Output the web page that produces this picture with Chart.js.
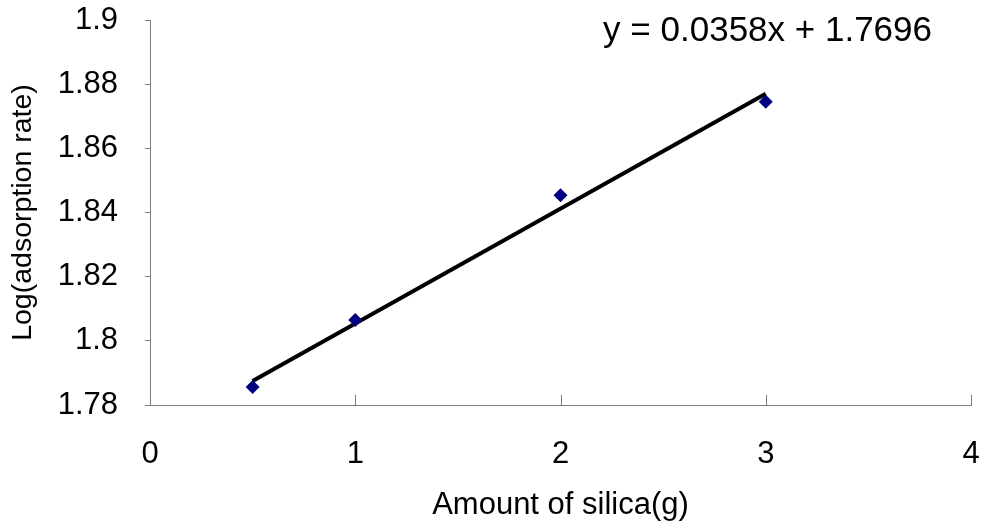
<!DOCTYPE html>
<html>
<head>
<meta charset="utf-8">
<script src="https://cdn.jsdelivr.net/npm/chart.js@4.4.0/dist/chart.umd.min.js"></script>
<style>
  html, body { margin: 0; padding: 0; background: #fff; }
  #wrap { width: 986px; height: 524px; position: relative; }
</style>
</head>
<body>
<div id="wrap"><canvas id="chart"></canvas></div>
<script>
// ---- data ----
const silicaAmount = [0.5, 1, 2, 3];
const logAdsorption = [1.7856, 1.8065, 1.8454, 1.8745];

// trendline end points (from y = 0.0358x + 1.7696)
const trendX = [0.5, 3];
const trendY = [1.7875, 1.877];

const yTickLabels = ['1.78', '1.8', '1.82', '1.84', '1.86', '1.88', '1.9'];
const xTickLabels = ['0', '1', '2', '3', '4'];
const equationText = 'y = 0.0358x + 1.7696';

const FONT = '"Liberation Sans", Arial, sans-serif';
const AXIS_GREY = '#7f7f7f';

// x axis ticks point inwards in the original, draw them by hand
const innerTicks = {
    id: 'innerTicks',
    afterDraw(chart) {
        const ctx = chart.ctx;
        const xs = chart.scales.x;
        const bottom = chart.chartArea.bottom;
        ctx.save();
        ctx.strokeStyle = AXIS_GREY;
        ctx.lineWidth = 1;
        xs.ticks.forEach(t => {
            const px = Math.round(xs.getPixelForValue(t.value)) + 0.5;
            ctx.beginPath();
            ctx.moveTo(px, bottom);
            ctx.lineTo(px, bottom - 10);
            ctx.stroke();
        });
        // equation label
        ctx.fillStyle = '#000';
        ctx.font = '35px ' + FONT;
        ctx.textAlign = 'right';
        ctx.textBaseline = 'middle';
        ctx.fillText(equationText, 932, 31);
        ctx.restore();
    }
};

new Chart(document.getElementById('chart'), {
    type: 'scatter',
    data: {
        datasets: [
            {
                label: 'Log(adsorption rate)',
                data: silicaAmount.map((x, i) => ({ x: x, y: logAdsorption[i] })),
                pointStyle: 'rectRot',
                pointRadius: 7,
                backgroundColor: '#000080',
                borderColor: '#000080',
                borderWidth: 0,
                showLine: false
            },
            {
                label: 'Linear',
                data: trendX.map((x, i) => ({ x: x, y: trendY[i] })),
                showLine: true,
                borderColor: '#000',
                borderWidth: 4,
                pointRadius: 0
            }
        ]
    },
    options: {
        responsive: true, maintainAspectRatio: false, animation: false,
        devicePixelRatio: 1,
        layout: { padding: { top: 20, right: 15, left: 0, bottom: 0 } },
        plugins: { legend: { display: false }, tooltip: { enabled: false } },
        scales: {
            x: {
                type: 'linear', min: 0, max: 4,
                afterFit: s => { s.height = 119; s.paddingLeft = 0; s.paddingRight = 0; },
                ticks: {
                    stepSize: 1, padding: 31, color: '#000',
                    font: { family: FONT, size: 31 },
                    callback: (v, i) => xTickLabels[i]
                },
                grid: { display: true, drawOnChartArea: false, drawTicks: false },
                border: { display: true, color: AXIS_GREY, width: 1 },
                title: {
                    display: true, text: 'Amount of silica(g)', color: '#000',
                    font: { family: FONT, size: 31 }, padding: { top: 0, bottom: 0 }
                }
            },
            y: {
                type: 'linear', min: 1.78, max: 1.9,
                afterFit: s => { s.width = 150; s.paddingTop = 0; s.paddingBottom = 0; },
                ticks: {
                    stepSize: 0.02, padding: 27, color: '#000',
                    font: { family: FONT, size: 31 },
                    callback: (v, i) => yTickLabels[i]
                },
                grid: { display: true, drawOnChartArea: false, drawTicks: true, tickLength: 5, color: AXIS_GREY },
                border: { display: true, color: AXIS_GREY, width: 1 },
                title: {
                    display: true, text: 'Log(adsorption rate)', color: '#000',
                    font: { family: FONT, size: 28.5 }, padding: { top: 6, bottom: 0 }
                }
            }
        }
    },
    plugins: [innerTicks]
});
</script>
</body>
</html>
